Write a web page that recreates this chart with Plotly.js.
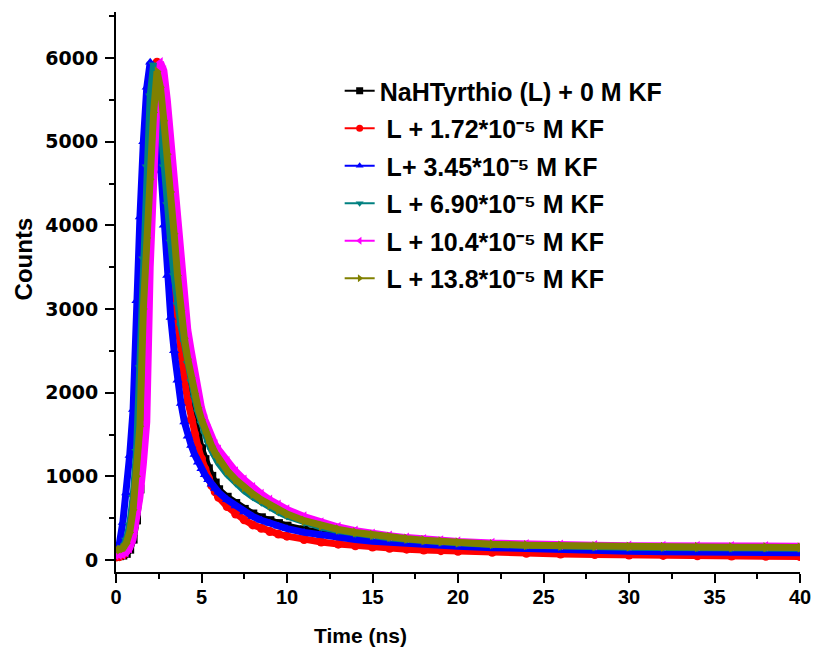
<!DOCTYPE html>
<html>
<head>
<meta charset="utf-8">
<script src="https://cdn.plot.ly/plotly-3.0.1.min.js"></script>
<style>html,body{margin:0;padding:0;background:#fff;}#chart{width:813px;height:653px;}</style>
</head>
<body>
<div id="chart"></div>
<script>
// Time axis (ns)
const time = [0,0.2,0.4,0.6,0.8,1.0,1.2,1.4,1.6,1.8,2.0,2.2,2.4,2.6,2.8,3.0,3.2,3.4,3.6,3.8,4.0,4.2,4.4,4.6,4.8,5.0,5.2,5.4,5.6,5.8,6.0,
  6.5,7,7.5,8,8.5,9,9.5,10,
  11,12,13,14,15,16,17,18,19,20,
  22,24,26,28,30,32,34,36,38,40];

// Counts for each sample
const countsL0 = [50,52,60,80,130,250,480,850,1500,2900,4300,5300,5800,5850,5550,5050,4500,3900,3350,2850,2450,2150,1900,1680,1480,1330,1200,1090,1000,920,840,
  750,675,605,550,505,470,435,405,
  360,322,295,270,250,233,218,205,193,182,
  162,147,137,129,122,117,113,110,108,106];
const countsKF172 = [35,40,60,110,220,420,750,1250,2100,3500,4800,5600,5950,5700,5100,4400,3750,3250,2850,2450,2150,1900,1680,1500,1350,1210,1090,980,890,815,750,
  640,550,480,420,380,340,310,285,
  245,215,190,170,155,140,130,120,112,105,
  92,80,72,65,60,55,50,47,44,42];
const countsKF345 = [90,200,450,800,1250,1800,3100,4100,5000,5650,5950,5800,5350,4650,4000,3400,2900,2500,2150,1870,1650,1480,1370,1260,1170,1090,1020,960,905,855,810,
  720,645,575,520,475,440,405,375,
  330,295,270,245,225,210,197,185,175,165,
  148,133,122,113,106,100,96,93,90,88];
const countsKF690 = [100,110,150,240,420,750,1300,2300,3600,4700,5550,5920,5700,5250,4700,4250,3800,3400,3050,2800,2600,2350,2130,1940,1770,1630,1510,1400,1310,1230,1160,
  1025,920,830,755,690,630,575,525,
  450,395,352,318,290,267,248,231,217,205,
  186,174,166,159,154,150,147,145,143,141];
const countsKF104 = [60,62,70,90,140,250,450,750,1150,1650,3500,4600,5500,5950,5850,5500,5050,4600,4000,3500,3050,2750,2500,2250,2020,1820,1680,1560,1460,1380,1320,
  1180,1060,960,870,790,720,660,605,
  520,450,395,350,315,290,268,250,235,222,
  203,190,182,176,172,169,167,166,165,165];
const countsKF138 = [120,125,140,200,330,600,1000,1600,3000,3850,4550,5350,5840,5650,5250,4850,4400,3900,3400,2980,2650,2400,2180,1990,1820,1680,1560,1450,1360,1280,1210,
  1070,960,870,790,720,660,600,550,
  470,410,365,330,300,275,255,237,222,210,
  190,178,170,164,160,157,155,153,152,150];

const seriesNames = [
  'NaHTyrthio (L) + 0 M KF',
  ' L + 1.72*10\u207B\u2075 M KF',
  ' L+ 3.45*10\u207B\u2075 M KF',
  ' L + 6.90*10\u207B\u2075 M KF',
  ' L + 10.4*10\u207B\u2075 M KF',
  ' L + 13.8*10\u207B\u2075 M KF'
];
const seriesCounts = [countsL0, countsKF172, countsKF345, countsKF690, countsKF104, countsKF138];
const seriesColors = ['#000000','#FF0000','#0000FF','#008080','#FF00FF','#808000'];
const seriesSymbols = ['square','circle','triangle-up','triangle-down','triangle-left','triangle-right'];

const traces = [];
seriesCounts.forEach((ys, i) => {
  traces.push({
    x: time, y: ys, type: 'scatter', mode: 'lines+markers',
    line: {color: seriesColors[i], width: 7},
    marker: {symbol: seriesSymbols[i], size: 9, color: seriesColors[i]},
    showlegend: false, hoverinfo: 'skip'
  });
});
seriesNames.forEach((n, i) => {
  traces.push({
    x: [null], y: [null], type: 'scatter', mode: 'lines+markers', name: n,
    legendgroup: 'g' + i,
    line: {color: seriesColors[i], width: 2},
    marker: {symbol: seriesSymbols[i], size: 7, color: seriesColors[i]},
    showlegend: true
  });
});

const boldFont = (size, fam) => ({family: fam || 'Liberation Sans, Arial, sans-serif', size: size, color: '#000', weight: 'bold'});

const layout = {
  width: 813, height: 653,
  margin: {l: 116, r: 13, t: 12, b: 81, pad: 0},
  paper_bgcolor: '#fff', plot_bgcolor: '#fff',
  showlegend: true,
  legend: {
    x: 0.327, y: 0.9, xanchor: 'left', yanchor: 'top',
    font: boldFont(25), bgcolor: 'rgba(0,0,0,0)', borderwidth: 0,
    tracegroupgap: 2
  },
  xaxis: {
    range: [0, 40], dtick: 5, tick0: 0,
    showline: true, linecolor: '#000', linewidth: 2,
    ticks: 'outside', ticklen: 9, tickwidth: 2, tickcolor: '#000',
    minor: {ticks: 'outside', ticklen: 5, tickwidth: 2, tickcolor: '#000', dtick: 2.5},
    showgrid: false, zeroline: false,
    tickfont: boldFont(20), ticklabelstandoff: -3
  },
  yaxis: {
    range: [-143, 6550], dtick: 1000, tick0: 0,
    showline: true, linecolor: '#000', linewidth: 2,
    ticks: 'outside', ticklen: 9, tickwidth: 2, tickcolor: '#000',
    minor: {ticks: 'outside', ticklen: 5, tickwidth: 2, tickcolor: '#000', dtick: 500},
    showgrid: false, zeroline: false,
    tickfont: boldFont(19, 'DejaVu Sans, sans-serif'), ticklabelstandoff: 3
  },
  annotations: [
    {text: 'Time (ns)', xref: 'paper', yref: 'paper', x: 0.357, y: -0.1125,
     xanchor: 'center', yanchor: 'middle', showarrow: false, font: boldFont(21)},
    {text: 'Counts', xref: 'paper', yref: 'paper', x: -0.136, y: 0.56, textangle: -90,
     xanchor: 'center', yanchor: 'middle', showarrow: false, font: boldFont(24)}
  ]
};

Plotly.newPlot('chart', traces, layout, {displayModeBar: false, staticPlot: true});
</script>
</body>
</html>
